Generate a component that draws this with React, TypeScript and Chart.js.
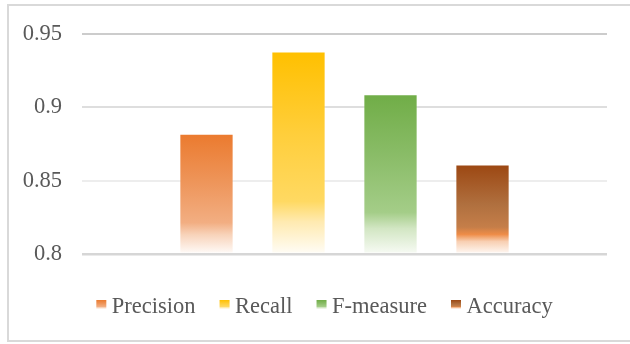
import React, { useEffect, useRef } from "react";
import { Chart, registerables } from "chart.js";

Chart.register(...registerables);

// ---- data ----
const categories = [""];
const seriesNames = ["Precision", "Recall", "F-measure", "Accuracy"];
const precisionValues = [0.882];
const recallValues = [0.938];
const fMeasureValues = [0.909];
const accuracyValues = [0.861];
const yTickValues = [0.8, 0.85, 0.9, 0.95];
const yTickLabels = ["0.8", "0.85", "0.9", "0.95"];

// ---- styling ----
const FONT = "'Liberation Serif', 'Times New Roman', serif";
const TEXT = "#595959";

type Stop = [number, string];
const gradientStops: Stop[][] = [
  [
    [0, "#EB7A2E"],
    [0.4, "#EE955A"],
    [0.74, "#F2AE82"],
    [0.84, "#F8D3BA"],
    [1, "#FFFCFA"],
  ],
  [
    [0, "#FFC000"],
    [0.4, "#FFCE3A"],
    [0.74, "#FFD962"],
    [0.84, "#FFEAB0"],
    [1, "#FFFDF7"],
  ],
  [
    [0, "#70AD47"],
    [0.4, "#8BBD69"],
    [0.74, "#A4CD88"],
    [0.84, "#D2E6C3"],
    [1, "#F8FBF5"],
  ],
  [
    [0, "#9C4712"],
    [0.45, "#B0703F"],
    [0.7, "#C57E49"],
    [0.78, "#EE8C47"],
    [0.86, "#F8CFB2"],
    [1, "#FFFAF7"],
  ],
];
const solidColors = ["#ED7D31", "#FFC000", "#70AD47", "#9E480E"];

function makeGradient(ctx: CanvasRenderingContext2D, top: number, bottom: number, stops: Stop[]) {
  const g = ctx.createLinearGradient(0, top, 0, bottom);
  stops.forEach(([o, c]) => g.addColorStop(o, c));
  return g;
}

function barFill(index: number) {
  return (c: any) => {
    const chart = c.chart;
    const y = chart.scales?.y;
    if (c.type !== "data" || !y || !chart.chartArea) return solidColors[index];
    const top = y.getPixelForValue(c.raw as number);
    const bottom = y.getPixelForValue(y.min);
    if (!isFinite(top) || !isFinite(bottom) || bottom - top < 1) return solidColors[index];
    return makeGradient(chart.ctx, top, bottom, gradientStops[index]);
  };
}

// Frame around the whole figure.
const framePlugin = {
  id: "frame",
  beforeDraw(chart: any) {
    const { ctx } = chart;
    ctx.save();
    ctx.fillStyle = "#ffffff";
    ctx.fillRect(0, 0, chart.width, chart.height);
    ctx.strokeStyle = "#d9d9d9";
    ctx.lineWidth = 2;
    ctx.strokeRect(8, 5, chart.width + 20, chart.height - 8);
    ctx.restore();
  },
};

// Legend row under the plot: small gradient squares followed by the series names.
const legendRowPlugin = {
  id: "legendRow",
  afterDraw(chart: any) {
    const { ctx } = chart;
    const box = 10;
    const boxH = 9;
    const boxGap = 5.5;
    const itemGap = 24;
    ctx.save();
    ctx.font = `22.5px ${FONT}`;
    const names: string[] = chart.data.datasets.map((d: any) => d.label);
    const widths = names.map((n) => ctx.measureText(n).width);
    const total =
      widths.reduce((a, b) => a + b, 0) + names.length * (box + boxGap) + (names.length - 1) * itemGap;
    let x = 324.5 - total / 2;
    const boxTop = 300;
    const baseline = 312.5;
    names.forEach((name, i) => {
      ctx.fillStyle = makeGradient(ctx, boxTop, boxTop + boxH, gradientStops[i]);
      ctx.fillRect(x, boxTop, box, boxH);
      x += box + boxGap;
      ctx.fillStyle = TEXT;
      ctx.textBaseline = "alphabetic";
      ctx.textAlign = "left";
      ctx.fillText(name, x, baseline);
      x += widths[i] + itemGap;
    });
    ctx.restore();
  },
};

export default function App() {
  const canvasRef = useRef<HTMLCanvasElement | null>(null);

  useEffect(() => {
    if (!canvasRef.current) return;
    const seriesValues = [precisionValues, recallValues, fMeasureValues, accuracyValues];
    const chart = new Chart(canvasRef.current, {
      type: "bar",
      data: {
        labels: categories,
        datasets: seriesNames.map((name, i) => ({
          label: name,
          data: seriesValues[i],
          backgroundColor: barFill(i),
          borderColor: "rgba(255,255,255,0.35)",
          borderWidth: 1,
          categoryPercentage: 0.701,
          barPercentage: 0.59,
          base: 0.8,
        })),
      },
      options: {
        animation: false,
        responsive: false,
        maintainAspectRatio: false,
        events: [],
        layout: { padding: { left: 0, right: 23, top: 34, bottom: 90 } },
        plugins: {
          legend: { display: false },
          tooltip: { enabled: false },
        },
        scales: {
          x: { display: false, grid: { display: false } },
          y: {
            min: 0.8,
            max: 0.95,
            border: { display: false },
            afterFit(scale: any) {
              scale.width = 82;
            },
            afterBuildTicks(scale: any) {
              scale.ticks = yTickValues.map((v) => ({ value: v }));
            },
            grid: {
              drawTicks: false,
              lineWidth: (c: any) => (c.tick && c.tick.value === 0.8 ? 2.5 : 2),
              color: (c: any) => {
                const v = c.tick ? c.tick.value : 0;
                if (v === 0.95) return "#cccccc";
                if (v === 0.9) return "#dedede";
                if (v === 0.85) return "#ededed";
                return "#d6d6d6";
              },
            },
            ticks: {
              padding: 20,
              color: TEXT,
              font: { family: FONT, size: 22.5 },
              callback: (v: any) => {
                const idx = yTickValues.findIndex((t) => Math.abs(t - Number(v)) < 1e-9);
                return idx >= 0 ? yTickLabels[idx] : "";
              },
            },
          },
        },
      },
      plugins: [framePlugin, legendRowPlugin],
    });
    return () => chart.destroy();
  }, []);

  return (
    <div style={{ position: "fixed", left: 0, top: 0, width: 630, height: 344, background: "#fff" }}>
      <canvas ref={canvasRef} width={630} height={344} style={{ display: "block", width: 630, height: 344 }} />
    </div>
  );
}
